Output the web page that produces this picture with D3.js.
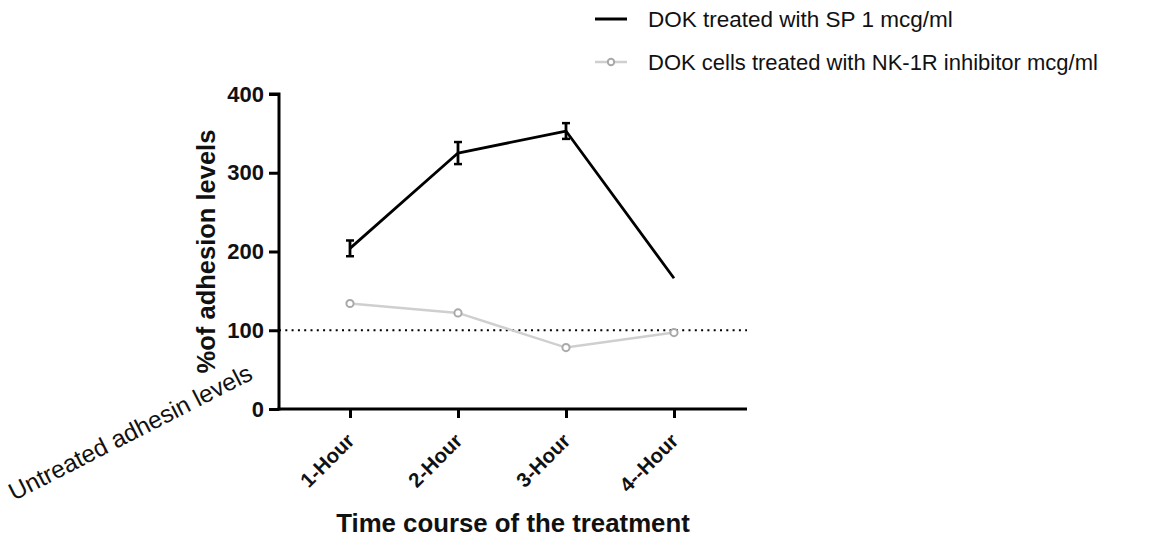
<!DOCTYPE html>
<html><head><meta charset="utf-8">
<script src="https://cdn.jsdelivr.net/npm/d3@7/dist/d3.min.js"></script>
<style>body{margin:0;background:#fff}svg{display:block;font-family:Arial,"Liberation Sans",sans-serif}</style>
</head><body>
<svg id="c" width="1174" height="544"></svg>
<script>
const categories = ["1-Hour","2-Hour","3-Hour","4--Hour"];
const spValues = [204, 325, 353, 166];
const spErrors = [10, 14, 10, 0];
const inhibValues = [134, 122, 78, 97];
const yTicks = [0,100,200,300,400];
const baseline = 100;
const seriesNames = ["DOK treated with SP 1 mcg/ml","DOK cells treated with NK-1R inhibitor mcg/ml"];

const svg = d3.select("#c");
const x0 = 279, x1 = 747, yTop = 94, yBot = 409;
const x = d3.scalePoint().domain(categories).range([350, 674]);
const y = d3.scaleLinear().domain([0,400]).range([yBot, yTop]);

// dotted baseline
svg.append("line").attr("x1", x0).attr("x2", x1).attr("y1", y(baseline)).attr("y2", y(baseline))
  .attr("stroke","#000").attr("stroke-width",2.2).attr("stroke-dasharray","2,4.3");

// y axis
const ya = svg.append("g").attr("transform",`translate(${x0},0)`)
  .call(d3.axisLeft(y).tickValues(yTicks).tickSize(10).tickPadding(5));
ya.select(".domain").attr("stroke-width",3).attr("d",`M-10,${yTop}H0V${yBot+1.5}`);
ya.selectAll(".tick line").attr("stroke-width",3);
ya.selectAll(".tick text").attr("font-size",22).attr("font-weight","bold").attr("fill","#111");

// x axis
const xa = svg.append("g").attr("transform",`translate(0,${yBot})`)
  .call(d3.axisBottom(x).tickSize(9).tickPadding(6));
xa.select(".domain").attr("stroke-width",3).attr("d",`M${x0-1.5},0H${x1}`);
xa.selectAll(".tick line").attr("stroke-width",3);
xa.selectAll(".tick text").attr("font-size",20.5).attr("font-weight","bold").attr("fill","#111")
  .attr("text-anchor","end").attr("x",0).attr("y",0).attr("dy","0.35em")
  .attr("transform","translate(0,28) rotate(-45)");

// axis titles
svg.append("text").attr("transform",`translate(215,${(yTop+yBot)/2}) rotate(-90)`)
  .attr("text-anchor","middle").attr("font-size",25.5).attr("font-weight","bold").attr("fill","#111")
  .text("%of adhesion levels");
svg.append("text").attr("x",513).attr("y",532).attr("text-anchor","middle")
  .attr("font-size",25.8).attr("font-weight","bold").attr("fill","#111")
  .text("Time course of the treatment");
svg.append("text").attr("transform","translate(14,501) rotate(-27)")
  .attr("font-size",24.5).attr("fill","#111").text("Untreated adhesin levels");

// inhibitor series
const line = d3.line().x((d,i)=>x(categories[i])).y(d=>y(d));
svg.append("path").datum(inhibValues).attr("d",line).attr("fill","none")
  .attr("stroke","#cfcfcf").attr("stroke-width",2.5);
svg.selectAll("circle.inh").data(inhibValues).join("circle").attr("class","inh")
  .attr("cx",(d,i)=>x(categories[i])).attr("cy",d=>y(d)).attr("r",3.6)
  .attr("fill","#fff").attr("stroke","#a9a9a9").attr("stroke-width",2);

// SP series
svg.append("path").datum(spValues).attr("d",line).attr("fill","none")
  .attr("stroke","#000").attr("stroke-width",2.8).attr("stroke-linejoin","round");
const eb = svg.selectAll("g.eb").data(spValues.map((v,i)=>({v,e:spErrors[i],c:categories[i]})).filter(d=>d.e>0))
  .join("g").attr("class","eb");
eb.append("line").attr("x1",d=>x(d.c)).attr("x2",d=>x(d.c)).attr("y1",d=>y(d.v-d.e)).attr("y2",d=>y(d.v+d.e))
  .attr("stroke","#000").attr("stroke-width",2.8);
["-","+"].forEach(s=>{
  eb.append("line").attr("x1",d=>x(d.c)-4).attr("x2",d=>x(d.c)+4)
    .attr("y1",d=>y(s==="-"?d.v-d.e:d.v+d.e)).attr("y2",d=>y(s==="-"?d.v-d.e:d.v+d.e))
    .attr("stroke","#000").attr("stroke-width",2.5);
});

// legend
const lg = svg.append("g");
lg.append("line").attr("x1",595).attr("x2",627).attr("y1",19).attr("y2",19).attr("stroke","#000").attr("stroke-width",3);
lg.append("text").attr("x",648).attr("y",19).attr("dy","0.35em").attr("font-size",22.5).attr("fill","#111").text(seriesNames[0]);
lg.append("line").attr("x1",595).attr("x2",627).attr("y1",62).attr("y2",62).attr("stroke","#cfcfcf").attr("stroke-width",2.5);
lg.append("circle").attr("cx",611).attr("cy",62).attr("r",3.2).attr("fill","#fff").attr("stroke","#a9a9a9").attr("stroke-width",2);
lg.append("text").attr("x",648).attr("y",62).attr("dy","0.35em").attr("font-size",22).attr("fill","#111").text(seriesNames[1]);
</script>
</body></html>
